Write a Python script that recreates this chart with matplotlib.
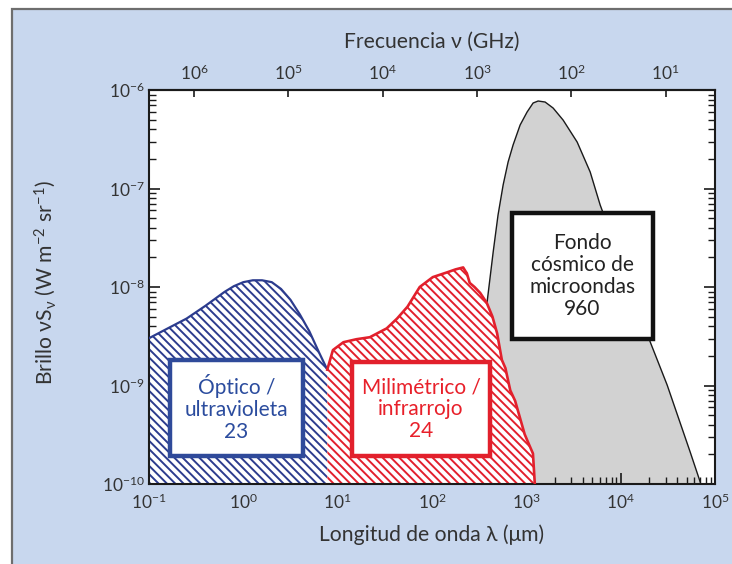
import matplotlib
matplotlib.use("Agg")
import matplotlib.pyplot as plt
from matplotlib.patches import Rectangle
from matplotlib.ticker import (FixedLocator, NullLocator, NullFormatter,
                               LogLocator, LogFormatterMathtext)

plt.rcParams['font.family'] = ['Lato', 'DejaVu Sans']
plt.rcParams['mathtext.fontset'] = 'custom'
plt.rcParams['mathtext.rm'] = 'Lato'
plt.rcParams['mathtext.it'] = 'Lato:italic'
plt.rcParams['mathtext.bf'] = 'Lato:bold'
plt.rcParams['mathtext.fallback'] = 'stixsans'
plt.rcParams['hatch.linewidth'] = 1.4

# ---------------- data ----------------
# wavelength in micrometres, brightness nu*S_nu in W m^-2 sr^-1
opt_lam = [0.1, 0.158, 0.251, 0.398, 0.631, 0.794, 1.0, 1.26, 1.58, 2.0,
           2.51, 3.16, 3.98, 5.01, 6.31, 7.76]
opt_val = [3.02e-9, 3.80e-9, 4.79e-9, 6.46e-9, 8.91e-9, 1.02e-8, 1.12e-8,
           1.17e-8, 1.17e-8, 1.12e-8, 9.55e-9, 7.41e-9, 5.25e-9, 3.55e-9,
           2.19e-9, 1.45e-9]

ir_lam = [7.76, 8.91, 11.5, 15.8, 21.9, 33.1, 42.7, 55.0, 74.1, 102, 145,
          178, 214, 226, 234, 251, 282, 324, 380, 437, 490, 550, 600, 676,
          760, 851, 960, 1047, 1175, 1230]
ir_val = [1.45e-9, 2.29e-9, 2.75e-9, 2.95e-9, 3.09e-9, 3.80e-9, 4.79e-9,
          6.31e-9, 1.0e-8, 1.26e-8, 1.41e-8, 1.51e-8, 1.58e-8, 1.45e-8,
          1.38e-8, 1.10e-8, 1.0e-8, 8.71e-9, 6.92e-9, 5.01e-9, 3.39e-9,
          1.82e-9, 1.50e-9, 8.91e-10, 7.0e-10, 4.79e-10, 3.2e-10, 2.63e-10,
          2.04e-10, 1.0e-10]

cmb_lam = [279, 324, 384, 445, 501, 568, 641, 724, 859, 1019, 1180, 1334,
           1581, 1923, 2455, 3459, 4753, 6067, 11170, 20560, 31120, 54580,
           69660]
cmb_val = [1.0e-10, 7.1e-10, 7.05e-9, 2.26e-8, 5.37e-8, 1.09e-7, 1.86e-7,
           2.77e-7, 4.41e-7, 5.98e-7, 7.38e-7, 7.73e-7, 7.55e-7, 6.56e-7,
           4.95e-7, 2.96e-7, 1.47e-7, 6.79e-8, 1.41e-8, 2.77e-9, 1.01e-9,
           2.11e-10, 1.05e-10]

box_texts = ["Óptico /\nultravioleta\n23",
             "Milimétrico /\ninfrarrojo\n24",
             "Fondo\ncósmico de\nmicroondas\n960"]

lam_ticks = [1e-1, 1e0, 1e1, 1e2, 1e3, 1e4, 1e5]
nu_ticks = [1e6, 1e5, 1e4, 1e3, 1e2, 1e1]
y_ticks = [1e-10, 1e-9, 1e-8, 1e-7, 1e-6]

xlim = (0.1, 1e5)
ylim = (1e-10, 1e-6)

# ---------------- figure ----------------
W, H = 732, 564
fig = plt.figure(figsize=(W / 100, H / 100), dpi=100, facecolor='white')

# light-blue panel with grey border on top/left
panel = Rectangle((12 / W, -0.05), 1.2, 1 - 8.5 / H + 0.05,
                  transform=fig.transFigure, facecolor='#c8d7ee',
                  edgecolor='#6e6e6e', linewidth=1.6, zorder=-10)
fig.patches.append(panel)

ax = fig.add_axes([149 / W, 1 - 484 / H, 566 / W, 394 / H])
ax.set_zorder(1)
ax.set_xscale('log')
ax.set_yscale('log')
ax.set_xlim(*xlim)
ax.set_ylim(*ylim)
ax.set_facecolor('white')

BLUE = '#2c3c8e'
RED = '#e2202c'
GREY = '#d2d2d2'
TXT = '#333333'

# CMB
ax.fill_between(cmb_lam, cmb_val, 1e-11, facecolor=GREY, edgecolor='none',
                zorder=1)
ax.plot(cmb_lam, cmb_val, color='#1a1a1a', lw=1.0, zorder=1.5)

# optical / UV
ax.fill_between(opt_lam, opt_val, 1e-11, facecolor='white', edgecolor=BLUE,
                hatch='\\' * 4, linewidth=0, zorder=2)
ax.plot(opt_lam, opt_val, color=BLUE, lw=1.6, zorder=3,
        solid_joinstyle='round')

# far IR / mm
ax.fill_between(ir_lam, ir_val, 1e-11, facecolor='white', edgecolor=RED,
                hatch='\\' * 4, linewidth=0, zorder=2)
ax.plot(ir_lam, ir_val, color=RED, lw=1.9, zorder=3,
        solid_joinstyle='round')

# boxes
def add_box(x0, x1, y0, y1, ec, txt, tc):
    ax0 = (x0 - 149) / 566
    ax1 = (x1 - 149) / 566
    ay0 = (484 - y1) / 394
    ay1 = (484 - y0) / 394
    r = Rectangle((ax0, ay0), ax1 - ax0, ay1 - ay0, transform=ax.transAxes,
                  facecolor='white', edgecolor=ec, linewidth=3.2, zorder=5)
    ax.add_patch(r)
    ax.text((ax0 + ax1) / 2, (ay0 + ay1) / 2, txt, transform=ax.transAxes,
            ha='center', va='center', color=tc, fontsize=15,
            linespacing=1.12, zorder=6)

add_box(170, 303, 360, 456, '#2f4a9a', box_texts[0], '#2b4c9e')
add_box(352, 490, 362, 456, RED, box_texts[1], '#e8202a')
add_box(512, 653, 213, 339, '#111111', box_texts[2], '#222222')

# ticks
for s in ax.spines.values():
    s.set_linewidth(1.5)
    s.set_color('#1a1a1a')
ax.xaxis.set_major_locator(FixedLocator(lam_ticks))
ax.xaxis.set_minor_locator(LogLocator(base=10, subs=range(2, 10), numticks=20))
ax.xaxis.set_major_formatter(LogFormatterMathtext())
ax.xaxis.set_minor_formatter(NullFormatter())
ax.yaxis.set_major_locator(FixedLocator(y_ticks))
ax.yaxis.set_minor_locator(LogLocator(base=10, subs=range(2, 10), numticks=20))
ax.yaxis.set_major_formatter(LogFormatterMathtext())
ax.yaxis.set_minor_formatter(NullFormatter())
ax.tick_params(which='both', direction='in', top=False, right=True,
               labelsize=12.5, labelcolor=TXT, color='#1a1a1a')
ax.tick_params(which='major', length=8, width=1.2)
ax.tick_params(which='minor', length=5, width=1.0)
ax.tick_params(axis='y', pad=3)
ax.tick_params(axis='x', pad=6)

# top frequency axis (GHz) nu = 3e5 / lambda(um)
def lam2nu(x):
    return 3e5 / x

secax = ax.secondary_xaxis('top', functions=(lam2nu, lam2nu))
secax.xaxis.set_major_locator(FixedLocator(nu_ticks))
secax.xaxis.set_minor_locator(NullLocator())
secax.xaxis.set_major_formatter(LogFormatterMathtext())
secax.tick_params(direction='in', length=5, width=1.2, labelsize=12.5,
                  labelcolor=TXT, pad=5, color='#1a1a1a')
secax.spines['top'].set_linewidth(1.5)

# axis labels
fig.text(432 / W, 1 - 42 / H, 'Frecuencia ν (GHz)', ha='center',
         va='center', fontsize=15.2, color=TXT)
fig.text(432 / W, 1 - 535 / H, 'Longitud de onda λ (μm)', ha='center',
         va='center', fontsize=15.2, color=TXT)
fig.text(45 / W, 1 - 283 / H,
         r'Brillo νS$_{\mathrm{\nu}}$ (W m$^{-2}$ sr$^{-1}$)', ha='center',
         va='center', rotation=90, fontsize=15.2, color=TXT)

fig.savefig('out.png', dpi=100, facecolor=fig.get_facecolor())
